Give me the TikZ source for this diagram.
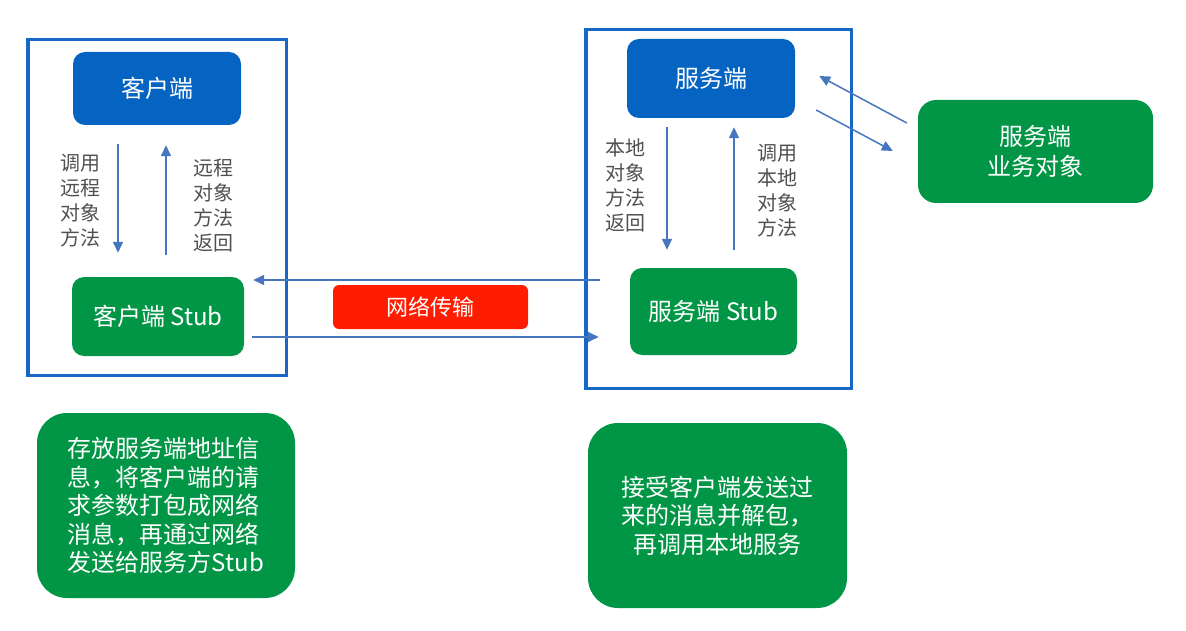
\documentclass[tikz,border=0pt]{standalone}
\usepackage{fontspec}
\setmainfont{Noto Sans CJK SC}
\usetikzlibrary{arrows.meta,calc}
\definecolor{framecol}{RGB}{22,104,196}
\definecolor{boxblue}{RGB}{5,99,193}
\definecolor{boxgreen}{RGB}{0,150,70}
\definecolor{boxred}{RGB}{255,28,0}
\definecolor{arrcol}{RGB}{72,118,190}
\definecolor{labgray}{RGB}{80,80,80}
\tikzset{
  frame/.style={draw=framecol, line width=3.5pt, inner sep=0pt},
  bluebox/.style={fill=boxblue, text=white, rounded corners=12pt, inner sep=0pt, font=\fontsize{24}{30}\selectfont},
  greenbox/.style={fill=boxgreen, text=white, rounded corners=12pt, inner sep=0pt, font=\fontsize{24}{30}\selectfont},
  notebox/.style={fill=boxgreen, text=white, rounded corners=30pt, inner sep=0pt, font=\fontsize{24}{28.5}\selectfont},
  redbox/.style={fill=boxred, text=white, rounded corners=6pt, inner sep=0pt, font=\fontsize{22}{26}\selectfont},
  lab/.style={text=labgray, align=left, inner sep=0pt, font=\fontsize{20}{25}\selectfont},
  arr/.style={draw=arrcol, line width=1.5pt, -{Triangle[length=11pt,width=10pt]}},
}
\begin{document}
\begin{tikzpicture}[x=1pt,y=-1pt]
\useasboundingbox (0,0) rectangle (1186,631);
% frames
\node[frame, minimum width=258.5pt, minimum height=335.5pt] (lf) at (157,207.5) {};
\node[frame, minimum width=265.5pt, minimum height=358.5pt] (rf) at (718.5,209) {};
% client side
\node[bluebox, minimum width=168pt, minimum height=73pt] (c) at (157,88.5) {客户端};
\node[greenbox, minimum width=172pt, minimum height=79pt] (cs) at (158,316.5) {客户端 Stub};
\node[lab] (cl1) at (80.5,201) {调用\\远程\\对象\\方法};
\node[lab] (cl2) at (213,205.5) {远程\\对象\\方法\\返回};
% server side
\node[bluebox, minimum width=168pt, minimum height=79pt] (s) at (711,78.5) {服务端};
\node[greenbox, minimum width=167pt, minimum height=87pt] (ss) at (713.5,311.5) {服务端 Stub};
\node[lab] (sl1) at (625.5,185) {本地\\对象\\方法\\返回};
\node[lab] (sl2) at (777.5,190.5) {调用\\本地\\对象\\方法};
\node[greenbox, rounded corners=18pt, align=center, minimum width=235pt, minimum height=103pt] (biz) at (1035.5,151.5) {服务端\\业务对象};
% network
\node[redbox, minimum width=195pt, minimum height=44pt] (net) at (430.5,307) {网络传输};
% notes
\node[notebox, minimum width=258pt, minimum height=185pt] (bl) at (166,505.5) {};
\node[text=white, align=left, inner sep=0pt, font=\fontsize{24}{28.5}\selectfont] (blt) at (bl.center) {存放服务端地址信\\息，将客户端的请\\求参数打包成网络\\消息，再通过网络\\发送给服务方Stub};
\node[notebox, align=center, minimum width=259pt, minimum height=185pt] (br) at (717.5,515.5) {接受客户端发送过\\来的消息并解包，\\再调用本地服务};
% vertical arrows
\draw[arr] ([xshift=-39pt,yshift=-19pt]c.south) -- ([xshift=-40pt,yshift=24pt]cs.north);
\draw[arr] ([xshift=8pt,yshift=22pt]cs.north) -- ([xshift=9pt,yshift=-20pt]c.south);
\draw[arr] ([xshift=-44pt,yshift=-9pt]s.south) -- ([xshift=-46.5pt,yshift=18pt]ss.north);
\draw[arr] ([xshift=20.5pt,yshift=18pt]ss.north) -- ([xshift=23pt,yshift=-9pt]s.south);
% network arrows
\draw[arr] ([xshift=-30pt,yshift=31.5pt]ss.west) -- ([xshift=9pt,yshift=36.5pt]cs.east);
\draw[arr] ([xshift=8pt,yshift=-20.5pt]cs.east) -- ([xshift=-31pt,yshift=-25.5pt]ss.west);
% business object arrows
\draw[arr] ([xshift=-11pt,yshift=28.5pt]biz.west) -- ([xshift=24pt,yshift=2.5pt]s.east);
\draw[arr] ([xshift=21pt,yshift=-31.5pt]s.east) -- ([xshift=-25pt,yshift=0.5pt]biz.west);
\end{tikzpicture}
\end{document}
